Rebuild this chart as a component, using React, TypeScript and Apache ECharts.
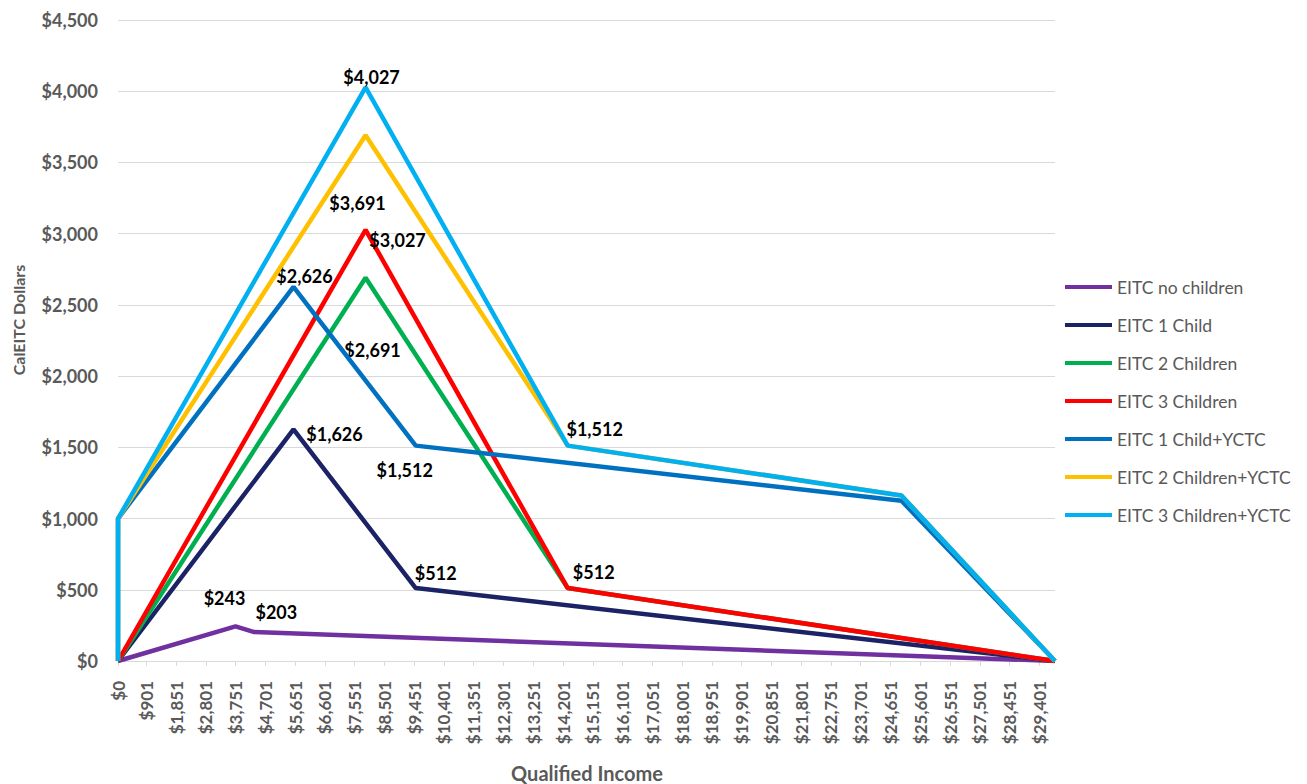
import React, { useEffect, useRef } from "react";
import * as echarts from "echarts";

// x-axis tick labels (qualified income, dollars)
const incomeTicks = [
  0, 901, 1851, 2801, 3751, 4701, 5651, 6601, 7551, 8501, 9451, 10401, 11351,
  12301, 13251, 14201, 15151, 16101, 17051, 18001, 18951, 19901, 20851, 21801,
  22751, 23701, 24651, 25601, 26551, 27501, 28451, 29401,
];
const incomeMax = 29900;

// series breakpoints: [income, CalEITC dollars]
const noChildren = [[0, 0], [3750, 243], [4350, 203], [29900, 0]];
const oneChild = [[0, 0], [5600, 1626], [9500, 512], [29900, 0]];
const twoChildren = [[0, 0], [7900, 2691], [14350, 512], [29900, 0]];
const threeChildren = [[0, 0], [7900, 3027], [14350, 512], [29900, 0]];
const oneChildYctc = [[0, 0], [1, 1000], [5600, 2626], [9500, 1512], [25000, 1125], [29900, 0]];
const twoChildrenYctc = [[0, 0], [1, 1000], [7900, 3691], [14350, 1512], [25000, 1162], [29900, 0]];
const threeChildrenYctc = [[0, 0], [1, 1000], [7900, 4027], [14350, 1512], [25000, 1162], [29900, 0]];

const seriesNames = [
  "EITC no children",
  "EITC 1 Child",
  "EITC 2 Children",
  "EITC 3 Children",
  "EITC 1 Child+YCTC",
  "EITC 2 Children+YCTC",
  "EITC 3 Children+YCTC",
];
const seriesData = [noChildren, oneChild, twoChildren, threeChildren, oneChildYctc, twoChildrenYctc, threeChildrenYctc];
const seriesColors = ["#7030A0", "#1C2266", "#00B050", "#FF0000", "#0070C0", "#FFC000", "#00B0F0"];

// which points carry a data label, with label offsets in px
const labelOffsets: Record<string, [number, number]> = {
  "0-1": [-11, -28],
  "0-2": [22, -20],
  "1-1": [41, 5],
  "1-2": [20, -15],
  "2-1": [7, 72],
  "3-1": [32, 10],
  "3-2": [26, -16],
  "4-2": [11, -11],
  "4-3": [-11, 24],
  "5-2": [-8, 68],
  "6-2": [6, -10],
  "6-3": [27, -17],
};

const FONT = "Lato";
const GRAY = "#595959";
const money = (v: number) => "$" + Math.round(v).toLocaleString("en-US");

export default function App() {
  const ref = useRef<HTMLDivElement>(null);
  useEffect(() => {
    if (!ref.current) return;
    const chart = echarts.init(ref.current, null, { renderer: "svg" });
    const series = seriesData.map((pts, si) => ({
      name: seriesNames[si],
      type: "line",
      symbol: "none",
      showSymbol: true,
      lineStyle: { width: 4.5, color: seriesColors[si] },
      itemStyle: { color: seriesColors[si] },
      z: 2 + si,
      data: pts.map((p, pi) => {
        const off = labelOffsets[`${si}-${pi}`];
        if (!off) return { value: p };
        return {
          value: p,
          symbol: "circle",
          symbolSize: 1,
          label: {
            show: true,
            position: "inside",
            offset: off,
            color: "#000",
            textBorderWidth: 0,
            fontFamily: FONT,
            fontWeight: "bold",
            fontSize: 18,
            formatter: (d: any) => money(d.value[1]),
          },
        };
      }),
    }));
    chart.setOption({
      animation: false,
      backgroundColor: "#fff",
      grid: { left: 118, right: 252, top: 20, bottom: 123, containLabel: false },
      xAxis: {
        type: "value",
        min: 0,
        max: incomeMax,
        axisLine: { show: true, lineStyle: { color: "#D9D9D9", width: 1 } },
        axisTick: { show: true, length: 5, customValues: incomeTicks, lineStyle: { color: "#D9D9D9" } },
        axisLabel: {
          customValues: incomeTicks,
          rotate: 90,
          margin: 20,
          color: GRAY,
          fontFamily: FONT,
          fontWeight: "bold",
          fontSize: 17,
          formatter: (v: number) => money(v),
        },
        splitLine: { show: false },
      },
      yAxis: {
        type: "value",
        min: 0,
        max: 4500,
        interval: 500,
        axisLine: { show: false },
        axisTick: { show: false },
        axisLabel: {
          margin: 20,
          color: GRAY,
          fontFamily: FONT,
          fontWeight: "bold",
          fontSize: 18,
          formatter: (v: number) => money(v),
        },
        splitLine: { lineStyle: { color: "#D9D9D9", width: 1 } },
      },
      legend: {
        orient: "vertical",
        left: 1065,
        top: 277,
        padding: 0,
        icon: "rect",
        itemWidth: 47,
        itemHeight: 4,
        itemGap: 18,
        textStyle: { color: GRAY, fontFamily: FONT, fontSize: 17.5, lineHeight: 20 },
        data: seriesNames,
      },
      graphic: [
        {
          type: "text",
          x: 18,
          y: 320,
          rotation: Math.PI / 2,
          style: {
            text: "CalEITC Dollars",
            fill: GRAY,
            font: `bold 16px ${FONT}`,
            align: "center",
            verticalAlign: "middle",
          },
        },
        {
          type: "text",
          x: 587,
          y: 773,
          style: {
            text: "Qualified Income",
            fill: GRAY,
            font: `bold 20px ${FONT}`,
            align: "center",
            verticalAlign: "middle",
          },
        },
      ],
      series,
    });
    return () => chart.dispose();
  }, []);
  return (
    <div
      ref={ref}
      style={{ position: "absolute", left: 0, top: 0, width: 1307, height: 784, background: "#fff" }}
    />
  );
}
